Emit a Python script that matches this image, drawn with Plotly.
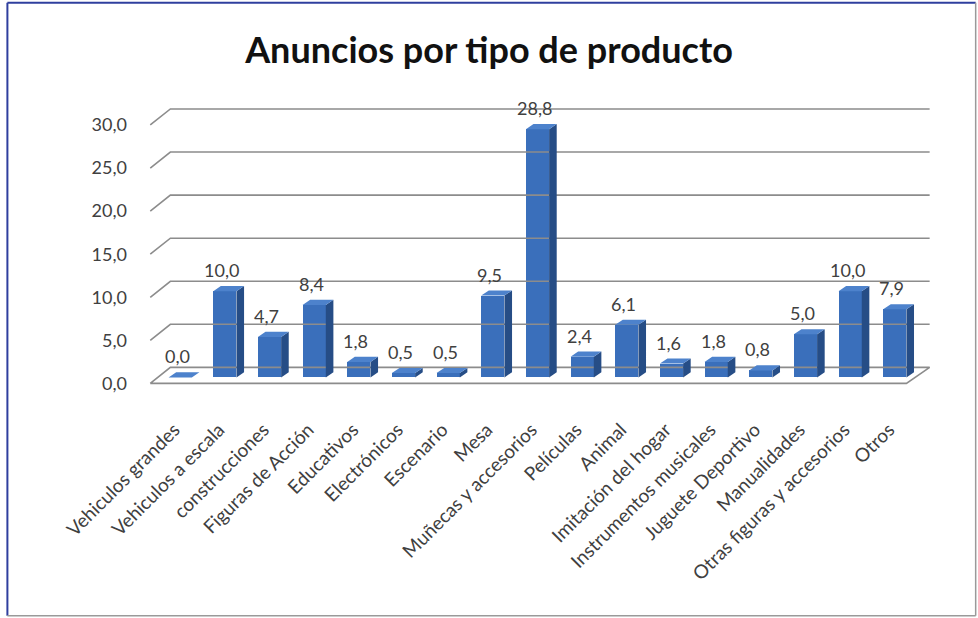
import plotly.graph_objects as go

categories = ["Vehiculos grandes", "Vehiculos a escala", "construcciones", "Figuras de Acción",
              "Educativos", "Electrónicos", "Escenario", "Mesa", "Muñecas y accesorios",
              "Películas", "Animal", "Imitación del hogar", "Instrumentos musicales",
              "Juguete Deportivo", "Manualidades", "Otras figuras y accesorios", "Otros"]
values = [0.0, 10.0, 4.7, 8.4, 1.8, 0.5, 0.5, 9.5, 28.8, 2.4, 6.1, 1.6, 1.8, 0.8, 5.0, 10.0, 7.9]
y_ticks = [0, 5, 10, 15, 20, 25, 30]
title_text = "Anuncios por tipo de producto"

FONT = "Lato"
W, H = 978, 618
XR = [-0.9, 16.9]
YR = [-1.0, 32.2]
L, R, T, B = 139.7, 42.7, 100, 232.4

half = 0.26      # half width of front face
dx, dy = 0.17, 0.6   # depth offset of the 3D box (data units)
back_off = 1.16      # back wall offset
front_off = -0.7     # front edge offset
x_front_l, x_back_l = -0.67, -0.22
x_front_r, x_back_r = 16.26, 16.78
label_shift = -0.13

fig = go.Figure()

# back wall gridlines + left wall diagonals
gx, gy = [], []
for t in y_ticks:
    if t == 0:
        continue
    gx += [x_front_l, x_back_l, x_back_r, None]
    gy += [t + front_off, t + back_off, t + back_off, None]
# floor
gx += [x_front_l, x_front_r, x_back_r, x_back_l, x_front_l, None]
gy += [front_off, front_off, back_off, back_off, front_off, None]
fig.add_trace(go.Scatter(x=gx, y=gy, mode="lines", line=dict(color="#8c8c8c", width=1.6),
                         hoverinfo="skip", showlegend=False))

idx = list(range(len(categories)))
# front faces
fig.add_trace(go.Bar(x=idx, y=values, width=2 * half, marker=dict(color="#3a6fbb", line=dict(width=0)),
                     showlegend=False))
# side and top faces
sx, sy = [], []
tx, ty = [], []
for i, v in zip(idx, values):
    sx += [i + half, i + half + dx, i + half + dx, i + half, i + half, None]
    sy += [0, dy, v + dy, v, 0, None]
    tx += [i - half, i + half, i + half + dx, i - half + dx, i - half, None]
    ty += [v, v, v + dy, v + dy, v, None]
fig.add_trace(go.Scatter(x=sx, y=sy, mode="lines", fill="toself", fillcolor="#264d86",
                         line=dict(width=0, color="#264d86"), hoverinfo="skip", showlegend=False))
fig.add_trace(go.Scatter(x=tx, y=ty, mode="lines", fill="toself", fillcolor="#4d82cc",
                         line=dict(width=0, color="#4d82cc"), hoverinfo="skip", showlegend=False))

# helper trace for the label axis
fig.add_trace(go.Scatter(x=[XR[0]] * len(y_ticks), y=y_ticks, yaxis="y2", mode="markers",
                         marker=dict(opacity=0), hoverinfo="skip", showlegend=False))

# data labels
for i, v in zip(idx, values):
    fig.add_annotation(x=i, y=v, xref="x", yref="y", text=f"{v:.1f}".replace(".", ","),
                       showarrow=False, yanchor="middle", yshift=21, xshift=-3,
                       font=dict(family=FONT, size=18, color="#404040"))

pw = W - L - R
ph = H - T - B
def px2paper_x(px):
    return (px - L) / pw
def py2paper_y(py):
    return (H - B - py) / ph

# outer border
fig.add_shape(type="line", xref="paper", yref="paper", x0=px2paper_x(7), x1=px2paper_x(7),
              y0=py2paper_y(3), y1=py2paper_y(615), line=dict(color="#2f3f9e", width=2))
fig.add_shape(type="line", xref="paper", yref="paper", x0=px2paper_x(7), x1=px2paper_x(976),
              y0=py2paper_y(3), y1=py2paper_y(3), line=dict(color="#2f3f9e", width=2))
fig.add_shape(type="line", xref="paper", yref="paper", x0=px2paper_x(7), x1=px2paper_x(976),
              y0=py2paper_y(615), y1=py2paper_y(615), line=dict(color="#9a9a9a", width=1.5))
fig.add_shape(type="line", xref="paper", yref="paper", x0=px2paper_x(976), x1=px2paper_x(976),
              y0=py2paper_y(3), y1=py2paper_y(615), line=dict(color="#9a9a9a", width=1.5))

fig.update_layout(
    width=W, height=H,
    margin=dict(l=L, r=R, t=T, b=B),
    paper_bgcolor="white", plot_bgcolor="white",
    separators=",.",
    bargap=0,
    title=dict(text=title_text, x=0.5, xanchor="center", y=1 - 50 / H, yanchor="middle",
               font=dict(family=FONT, size=36, color="#111111", weight="bold")),
    xaxis=dict(range=XR, tickvals=[i + label_shift for i in idx], ticktext=categories, tickangle=-45,
               showgrid=False, zeroline=False, showline=False, ticks="",
               ticklabelstandoff=28, tickfont=dict(family=FONT, size=19, color="#404040")),
    yaxis=dict(range=YR, visible=False, showgrid=False, zeroline=False),
    yaxis2=dict(range=[YR[0] - front_off, YR[1] - front_off], overlaying="y", side="left",
                tickvals=y_ticks, tickformat=".1f", showgrid=False, zeroline=False,
                showline=False, ticks="", ticklabelstandoff=12,
                tickfont=dict(family=FONT, size=18, color="#404040")),
    font=dict(family=FONT),
)

fig.write_html("out.html")
